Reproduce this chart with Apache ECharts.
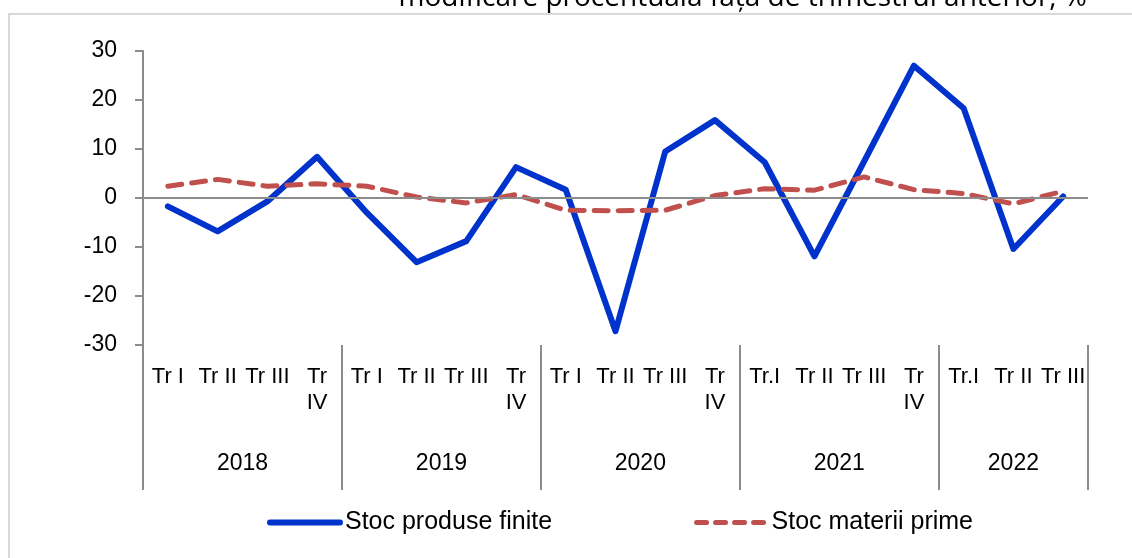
<!DOCTYPE html>
<html>
<head>
    <meta charset="utf-8">
    <title>Stocuri</title>
    <script src="https://cdnjs.cloudflare.com/ajax/libs/echarts/6.0.0/echarts.min.js"></script>
    <style>
        html, body { margin: 0; padding: 0; background: #fff; }
        #chart { width: 1132px; height: 558px; }
    </style>
</head>
<body>
    <div id="chart"></div>

    <script>
        const titleText = 'modificare procentuală față de trimestrul anterior, %';
        const years = ['2018', '2019', '2020', '2021', '2022'];
        const quartersPerYear = [4, 4, 4, 4, 3];
        const quarters = [
            'Tr I', 'Tr II', 'Tr III', 'Tr\nIV',
            'Tr I', 'Tr II', 'Tr III', 'Tr\nIV',
            'Tr I', 'Tr II', 'Tr III', 'Tr\nIV',
            'Tr.I', 'Tr II', 'Tr III', 'Tr\nIV',
            'Tr.I', 'Tr II', 'Tr III'
        ];
        const stocProduseFinite = [-1.7, -6.8, -0.7, 8.4, -3.0, -13.1, -8.8, 6.3, 1.7, -27.2,
                                   9.5, 15.9, 7.3, -11.9, 7.5, 27.0, 18.3, -10.4, 0.3];
        const stocMateriiPrime = [2.4, 3.8, 2.4, 2.9, 2.4, 0.2, -1.0, 0.7, -2.5, -2.6,
                                  -2.5, 0.5, 1.9, 1.6, 4.3, 1.7, 0.9, -1.2, 1.4];
        const yTicks = { min: -30, max: 30, step: 10 };

        // year boundaries and year label centres, counted in quarter slots
        const bounds = [0];
        quartersPerYear.forEach(n => bounds.push(bounds[bounds.length - 1] + n));
        const yearCentres = years.map((y, i) => (bounds[i] + bounds[i + 1]) / 2);

        const font = "'Liberation Sans', Arial, sans-serif";
        const axisGray = '#8c8c8c';
        const blue = '#0033cc';
        const red = '#c0504d';

        const chart = echarts.init(document.getElementById('chart'));

        chart.setOption({
            animation: false,
            title: {
                text: titleText,
                right: 45,
                top: -16,
                padding: 0,
                textStyle: {
                    fontFamily: "'Open Sans', sans-serif",
                    fontSize: 28,
                    fontWeight: 'normal',
                    color: '#000'
                }
            },
            graphic: [{
                type: 'rect',
                shape: { x: 9, y: 14, width: 1200, height: 600 },
                style: { fill: 'none', stroke: '#d9d9d9', lineWidth: 2 },
                z: -1
            }],
            grid: {
                left: 143,
                right: 44,
                top: 51,
                bottom: 213
            },
            legend: {
                left: 262,
                top: 505,
                itemWidth: 70,
                itemHeight: 26,
                itemGap: 142,
                textStyle: { fontFamily: font, fontSize: 25, color: '#000' },
                data: [
                    {
                        name: 'Stoc produse finite',
                        itemStyle: { opacity: 0 },
                        lineStyle: { color: blue, width: 6, cap: 'round' }
                    },
                    {
                        name: 'Stoc materii prime',
                        itemStyle: { opacity: 0 },
                        lineStyle: { color: red, width: 5, type: [10, 9], cap: 'round' }
                    }
                ]
            },
            xAxis: [
                {
                    type: 'category',
                    data: quarters,
                    boundaryGap: true,
                    axisLine: { show: false },
                    axisTick: { show: false },
                    axisLabel: {
                        interval: 0,
                        hideOverlap: false,
                        margin: 19,
                        fontFamily: font,
                        fontSize: 22,
                        lineHeight: 26,
                        color: '#000'
                    },
                    splitLine: { show: false }
                },
                {
                    type: 'value',
                    position: 'bottom',
                    min: 0,
                    max: bounds[bounds.length - 1],
                    axisLine: { show: false },
                    axisTick: {
                        show: true,
                        customValues: bounds,
                        length: 145,
                        lineStyle: { color: axisGray, width: 2 }
                    },
                    axisLabel: {
                        customValues: yearCentres,
                        formatter: v => years[yearCentres.indexOf(v)] || '',
                        margin: 107,
                        fontFamily: font,
                        fontSize: 23,
                        color: '#000'
                    },
                    splitLine: { show: false }
                }
            ],
            yAxis: {
                type: 'value',
                min: yTicks.min,
                max: yTicks.max,
                interval: yTicks.step,
                axisLine: { show: true, lineStyle: { color: axisGray, width: 2 } },
                axisTick: { show: true, length: 8, lineStyle: { color: axisGray, width: 2 } },
                axisLabel: {
                    margin: 26,
                    fontFamily: font,
                    fontSize: 23,
                    color: '#000'
                },
                splitLine: { show: false }
            },
            series: [
                {
                    name: 'Stoc produse finite',
                    type: 'line',
                    data: stocProduseFinite,
                    symbol: 'none',
                    lineStyle: { color: blue, width: 6, join: 'round', cap: 'round' },
                    itemStyle: { color: blue },
                    markLine: {
                        silent: true,
                        symbol: 'none',
                        label: { show: false },
                        lineStyle: { color: axisGray, width: 2, type: 'solid' },
                        data: [{ yAxis: 0 }]
                    },
                    z: 3
                },
                {
                    name: 'Stoc materii prime',
                    type: 'line',
                    data: stocMateriiPrime,
                    symbol: 'none',
                    lineStyle: { color: red, width: 5, type: [14, 10], cap: 'round' },
                    itemStyle: { color: red },
                    z: 4
                }
            ]
        });
    </script>
</body>
</html>
